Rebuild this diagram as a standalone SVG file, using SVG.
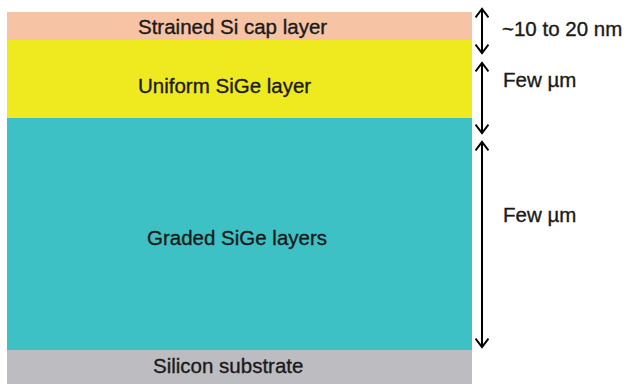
<svg xmlns="http://www.w3.org/2000/svg" width="627" height="384" viewBox="0 0 627 384">
<style>
text{font-family:"Liberation Sans",Arial,sans-serif;font-size:20.5px;fill:#1a1a1a;stroke:#1a1a1a;stroke-width:0.35}
.dim{fill:none;stroke:#000;stroke-width:2}
</style>
<defs>
<marker id="ah" viewBox="0 0 14 14" refX="12" refY="7" markerWidth="14" markerHeight="14" markerUnits="userSpaceOnUse" orient="auto-start-reverse">
<path d="M3.5,0.5 L12,7 L3.5,13.5" fill="none" stroke="#000" stroke-width="2"/>
</marker>
</defs>
<rect width="627" height="384" fill="#fff"/>
<g id="cap"><rect x="7" y="12" width="465" height="28" fill="#F6C3A4"/><text x="138" y="34">Strained Si cap layer</text></g>
<g id="uniform"><rect x="7" y="40" width="465" height="78" fill="#EEEA1F"/><text x="138" y="93">Uniform SiGe layer</text></g>
<g id="graded"><rect x="7" y="118" width="465" height="232" fill="#3EC1C5"/><text x="147" y="245">Graded SiGe layers</text></g>
<g id="substrate"><rect x="7" y="350" width="465" height="34" fill="#BDBDC1"/><text x="153" y="373">Silicon substrate</text></g>
<g id="connectors">
<line class="dim" x1="482" y1="9" x2="482" y2="53" marker-start="url(#ah)" marker-end="url(#ah)"/>
<line class="dim" x1="482" y1="63" x2="482" y2="133" marker-start="url(#ah)" marker-end="url(#ah)"/>
<line class="dim" x1="482" y1="142" x2="482" y2="347" marker-start="url(#ah)" marker-end="url(#ah)"/>
</g>
<g id="labels">
<text x="502" y="36">~10 to 20 nm</text>
<text x="503" y="87">Few µm</text>
<text x="503" y="222">Few µm</text>
</g>
</svg>
